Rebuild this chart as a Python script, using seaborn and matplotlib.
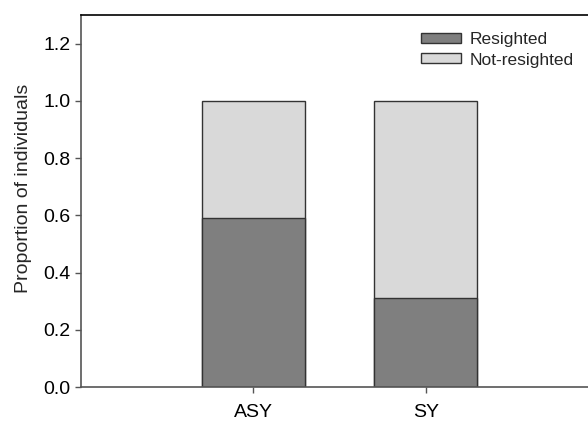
import matplotlib
matplotlib.use("Agg")
import matplotlib.pyplot as plt
import seaborn as sns
from matplotlib.patches import Patch

sns.set_style("ticks")
plt.rcParams["font.family"] = ["Liberation Sans", "DejaVu Sans"]

# data
age_groups = ["ASY", "SY"]
resighted = [0.59, 0.31]
not_resighted = [0.41, 0.69]
totals = [r + n for r, n in zip(resighted, not_resighted)]

dark = "#7f7f7f"
light = "#d9d9d9"
edge = "#333333"

fig = plt.figure(figsize=(5.88, 4.21), dpi=100)
ax = fig.add_axes([81 / 588, 1 - 387 / 421, 517 / 588, (387 - 15) / 421])

# total bar (light) then resighted part on top
sns.barplot(x=age_groups, y=totals, color=light, width=0.6,
            edgecolor=edge, linewidth=1, ax=ax, saturation=1)
sns.barplot(x=age_groups, y=resighted, color=dark, width=0.6,
            edgecolor=edge, linewidth=1, ax=ax, saturation=1)

ax.set_xlim(-1, 2)
ax.set_ylim(0, 1.3)
ax.set_yticks([0.0, 0.2, 0.4, 0.6, 0.8, 1.0, 1.2])
ax.set_yticklabels(["0.0", "0.2", "0.4", "0.6", "0.8", "1.0", "1.2"])
ax.set_ylabel("Proportion of individuals", fontsize=14)
ax.yaxis.set_label_coords(-0.095, 0.535)
ax.set_xlabel("")
ax.tick_params(axis="both", labelsize=14, direction="out", length=4, width=1,
               colors="#555555", labelcolor="black")
ax.tick_params(axis="x", pad=8.5)

for s in ["left", "bottom"]:
    ax.spines[s].set_color("#555555")
    ax.spines[s].set_linewidth(1.2)
ax.spines["top"].set_visible(True)
ax.spines["top"].set_color("black")
ax.spines["top"].set_linewidth(1.2)
ax.spines["right"].set_visible(False)

handles = [Patch(facecolor=dark, edgecolor=edge, label="Resighted"),
           Patch(facecolor=light, edgecolor=edge, label="Not-resighted")]
ax.legend(handles=handles, loc="upper left",
          bbox_to_anchor=((421 - 81) / 517, 1 - (32 - 15) / 372),
          frameon=False, fontsize=12.5, handlelength=2.3, handleheight=0.5,
          handletextpad=0.5, labelspacing=0.32, borderaxespad=0, borderpad=0)

fig.savefig("out.png", dpi=100)
